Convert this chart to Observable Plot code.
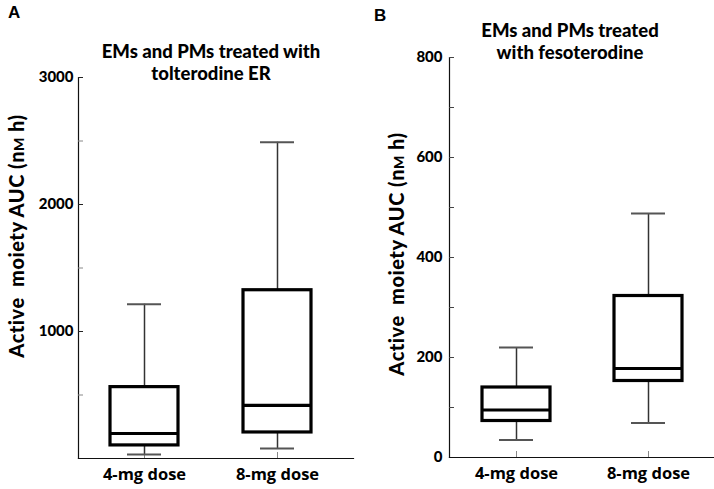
<!DOCTYPE html>
<html>
<head>
<meta charset="utf-8">
<script src="https://cdn.jsdelivr.net/npm/d3@7"></script>
<script src="https://cdn.jsdelivr.net/npm/@observablehq/plot@0.6"></script>
<style>
  html, body { margin: 0; padding: 0; background: #fff; }
  #wrap { position: relative; width: 714px; height: 489px; overflow: hidden; font-family: Lato, "Open Sans", sans-serif; color: #000; }
  .panel { position: absolute; top: 0; }
  .lbl { position: absolute; font-weight: 900; white-space: nowrap; }
  .title { font-size: 18.5px; text-align: center; line-height: 22px; }
  .letter { font-family: "Liberation Sans", Arial, sans-serif; font-size: 17px; font-weight: 700; }
  .ylab { font-size: 20px; letter-spacing: 0.5px; transform-origin: center center; }
  .sc { font-variant: small-caps; }
</style>
</head>
<body>
<div id="wrap">
  <div class="panel" id="pa" style="left:0px"></div>
  <div class="panel" id="pb" style="left:357px"></div>
  <div class="lbl letter" style="left:8px; top:3px;">A</div>
  <div class="lbl letter" style="left:374px; top:6px;">B</div>
  <div class="lbl title" style="left:91px; width:240px; top:40px;">EMs and PMs treated with<br>tolterodine ER</div>
  <div class="lbl title" style="left:465px; width:210px; top:19px;">EMs and PMs treated<br>with fesoterodine</div>
  <div class="lbl ylab" id="yla">Active&nbsp; moiety AUC (n<span class="sc">m</span> h)</div>
  <div class="lbl ylab" id="ylb">Active&nbsp; moiety AUC (n<span class="sc">m</span> h)</div>
</div>
<script>
// Categories
const doses = ["4-mg dose", "8-mg dose"];

// Panel A: tolterodine ER (box-plot summaries, nM h)
const toltLow    = [32, 79];
const toltQ1     = [103, 205];
const toltMedian = [197, 418];
const toltQ3     = [562, 1325];
const toltHigh   = [1215, 2490];

// Panel B: fesoterodine (box-plot summaries, nM h)
const fesoLow    = [35, 69];
const fesoQ1     = [73, 153];
const fesoMedian = [95, 178];
const fesoQ3     = [140, 323];
const fesoHigh   = [220, 488];

// Tick values
const toltMajorTicks = [1000, 2000, 3000];
const toltMinorTicks = [500, 1500, 2500];
const fesoLabelTicks = [0, 200, 400, 600, 800];
const fesoAllTicks   = [100, 200, 300, 400, 500, 600, 700, 800];

function table(low, q1, med, q3, high) {
  return doses.map((d, i) => ({dose: d, low: low[i], q1: q1[i], median: med[i], q3: q3[i], high: high[i]}));
}

function boxMarks(data) {
  return [
    Plot.ruleX(data, {x: "dose", y1: "low", y2: "q1", stroke: "#333", strokeWidth: 1.5}),
    Plot.ruleX(data, {x: "dose", y1: "q3", y2: "high", stroke: "#333", strokeWidth: 1.5}),
    Plot.tickY(data, {x: "dose", y: "low", insetLeft: 17, insetRight: 17, stroke: "#555", strokeWidth: 2}),
    Plot.tickY(data, {x: "dose", y: "high", insetLeft: 17, insetRight: 17, stroke: "#555", strokeWidth: 2}),
    Plot.barY(data, {x: "dose", y1: "q1", y2: "q3", fill: "white", stroke: "black", strokeWidth: 3.2}),
    Plot.tickY(data, {x: "dose", y: "median", stroke: "black", strokeWidth: 3.2})
  ];
}

const commonStyle = {fontFamily: "Lato, sans-serif", fontSize: "15px", fontWeight: "900", color: "#000", background: "white", overflow: "visible"};
const fmt = d3.format("d");

const dataA = table(toltLow, toltQ1, toltMedian, toltQ3, toltHigh);
const chartA = Plot.plot({
  width: 357, height: 489,
  marginLeft: 78, marginRight: 4, marginTop: 77, marginBottom: 31,
  style: commonStyle,
  x: {domain: doses, paddingInner: 0.49, paddingOuter: 0.278, align: 0.43, axis: null},
  y: {domain: [0, 3000], axis: null},
  marks: [
    Plot.frame({anchor: "left", stroke: "#111", strokeWidth: 1.2}),
    Plot.frame({anchor: "bottom", stroke: "#111", strokeWidth: 1.2}),
    Plot.axisY(toltMajorTicks, {tickSize: 0, tickPadding: 5, tickFormat: fmt, label: null, fontSize: 15, fontWeight: 900}),
    Plot.axisY(toltMajorTicks, {tickSize: -5, tickFormat: () => "", label: null, stroke: "#222"}),
    Plot.axisY(toltMinorTicks, {tickSize: -5, tickFormat: () => "", label: null, stroke: "#888"}),
    Plot.axisX({tickSize: -6, tickFormat: () => "", label: null, stroke: "#888"}),
    Plot.axisX({tickSize: 0, tickPadding: 10, label: null, fontFamily: "Open Sans, sans-serif", fontSize: 16.5, fontWeight: 700}),
    ...boxMarks(dataA)
  ]
});
document.getElementById("pa").appendChild(chartA);

const dataB = table(fesoLow, fesoQ1, fesoMedian, fesoQ3, fesoHigh);
const chartB = Plot.plot({
  width: 357, height: 489,
  marginLeft: 92, marginRight: 0, marginTop: 57, marginBottom: 32,
  style: commonStyle,
  x: {domain: doses, paddingInner: 0.485, paddingOuter: 0.246, align: 0.5, axis: null},
  y: {domain: [0, 800], axis: null},
  marks: [
    Plot.frame({anchor: "left", stroke: "#111", strokeWidth: 1.2}),
    Plot.frame({anchor: "bottom", stroke: "#111", strokeWidth: 1.2}),
    Plot.axisY(fesoLabelTicks, {tickSize: 0, tickPadding: 7, tickFormat: fmt, label: null, fontSize: 15, fontWeight: 900}),
    Plot.axisY(fesoAllTicks, {tickSize: -5, tickFormat: () => "", label: null, stroke: "#444"}),
    Plot.axisX({tickSize: -6, tickFormat: () => "", label: null, stroke: "#888"}),
    Plot.axisX({tickSize: 0, tickPadding: 10, label: null, fontFamily: "Open Sans, sans-serif", fontSize: 16.5, fontWeight: 700}),
    ...boxMarks(dataB)
  ]
});
document.getElementById("pb").appendChild(chartB);

// position rotated y-axis labels (centred on given points)
function placeY(id, cx, cy) {
  const el = document.getElementById(id);
  const w = el.offsetWidth, h = el.offsetHeight;
  el.style.left = (cx - w / 2) + "px";
  el.style.top = (cy - h / 2) + "px";
  el.style.transform = "rotate(-90deg)";
}
placeY("yla", 15, 236);
placeY("ylb", 395, 254);
</script>
</body>
</html>
